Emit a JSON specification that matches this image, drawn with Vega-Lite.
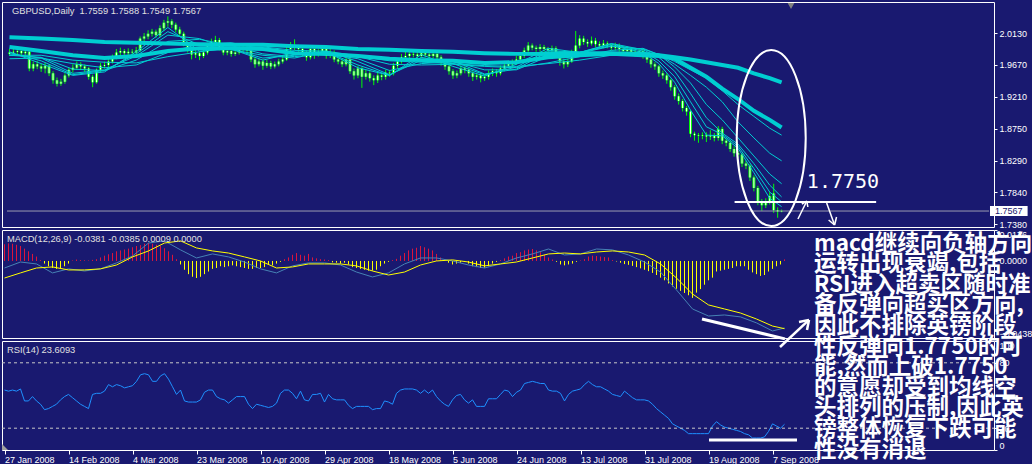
{
"$schema":"https://vega.github.io/schema/vega-lite/v6.json",
"background":"#191970",
"padding":{"left":0,"top":1,"right":0,"bottom":0},
"bounds":"flush",
"spacing":3,
"config":{"view":{"stroke":"#FFFFFF","strokeWidth":1},"axis":{"labelColor":"#FFFFFF","tickColor":"#FFFFFF","domain":false,"grid":false,"labelFont":"Liberation Sans","labelFontSize":9,"title":null,"labelOverlap":false}},
"resolve":{"scale":{"x":"independent","y":"independent"}},
"datasets":{
"bars":[
{"i":0,"o":1.983,"h":1.990,"l":1.980,"c":1.985,"m":0.0095,"r":55},
{"i":1,"o":1.985,"h":1.991,"l":1.981,"c":1.986,"m":0.0100,"r":54},
{"i":2,"o":1.986,"h":1.993,"l":1.982,"c":1.987,"m":0.0098,"r":55},
{"i":3,"o":1.987,"h":1.990,"l":1.980,"c":1.984,"m":0.0092,"r":54},
{"i":4,"o":1.984,"h":1.992,"l":1.981,"c":1.986,"m":0.0085,"r":56},
{"i":5,"o":1.986,"h":1.990,"l":1.958,"c":1.962,"m":0.0070,"r":45},
{"i":6,"o":1.962,"h":1.972,"l":1.958,"c":1.968,"m":0.0055,"r":45},
{"i":7,"o":1.968,"h":1.973,"l":1.961,"c":1.965,"m":0.0040,"r":49},
{"i":8,"o":1.965,"h":1.969,"l":1.957,"c":1.962,"m":0.0025,"r":45},
{"i":9,"o":1.962,"h":1.970,"l":1.955,"c":1.966,"m":0.0005,"r":42},
{"i":10,"o":1.966,"h":1.968,"l":1.951,"c":1.955,"m":-0.0015,"r":37},
{"i":11,"o":1.955,"h":1.958,"l":1.940,"c":1.945,"m":-0.0030,"r":38},
{"i":12,"o":1.945,"h":1.949,"l":1.936,"c":1.940,"m":-0.0040,"r":40},
{"i":13,"o":1.940,"h":1.947,"l":1.937,"c":1.943,"m":-0.0045,"r":42},
{"i":14,"o":1.943,"h":1.955,"l":1.940,"c":1.952,"m":-0.0040,"r":46},
{"i":15,"o":1.952,"h":1.963,"l":1.949,"c":1.960,"m":-0.0030,"r":49},
{"i":16,"o":1.960,"h":1.968,"l":1.956,"c":1.963,"m":-0.0015,"r":51},
{"i":17,"o":1.963,"h":1.972,"l":1.960,"c":1.968,"m":0.0003,"r":48},
{"i":18,"o":1.968,"h":1.971,"l":1.961,"c":1.965,"m":0.0008,"r":45},
{"i":19,"o":1.965,"h":1.968,"l":1.957,"c":1.962,"m":0.0005,"r":42},
{"i":20,"o":1.962,"h":1.964,"l":1.946,"c":1.950,"m":0.0004,"r":40},
{"i":21,"o":1.950,"h":1.953,"l":1.935,"c":1.942,"m":0.0003,"r":38},
{"i":22,"o":1.942,"h":1.962,"l":1.940,"c":1.960,"m":0.0006,"r":51},
{"i":23,"o":1.960,"h":1.970,"l":1.957,"c":1.966,"m":0.0010,"r":52},
{"i":24,"o":1.966,"h":1.972,"l":1.962,"c":1.967,"m":0.0020,"r":52},
{"i":25,"o":1.967,"h":1.976,"l":1.964,"c":1.972,"m":0.0030,"r":54},
{"i":26,"o":1.972,"h":1.982,"l":1.969,"c":1.978,"m":0.0038,"r":60},
{"i":27,"o":1.978,"h":1.990,"l":1.975,"c":1.985,"m":0.0045,"r":58},
{"i":28,"o":1.985,"h":1.992,"l":1.981,"c":1.987,"m":0.0055,"r":60},
{"i":29,"o":1.987,"h":1.990,"l":1.980,"c":1.984,"m":0.0060,"r":59},
{"i":30,"o":1.984,"h":1.991,"l":1.981,"c":1.986,"m":0.0065,"r":57},
{"i":31,"o":1.986,"h":1.990,"l":1.981,"c":1.985,"m":0.0070,"r":58},
{"i":32,"o":1.985,"h":1.993,"l":1.982,"c":1.988,"m":0.0078,"r":59},
{"i":33,"o":1.988,"h":2.008,"l":1.986,"c":2.005,"m":0.0085,"r":63},
{"i":34,"o":2.005,"h":2.013,"l":2.000,"c":2.008,"m":0.0090,"r":69},
{"i":35,"o":2.008,"h":2.017,"l":2.004,"c":2.012,"m":0.0098,"r":70},
{"i":36,"o":2.012,"h":2.019,"l":2.008,"c":2.015,"m":0.0102,"r":69},
{"i":37,"o":2.015,"h":2.018,"l":2.006,"c":2.010,"m":0.0098,"r":63},
{"i":38,"o":2.010,"h":2.024,"l":2.007,"c":2.020,"m":0.0092,"r":63},
{"i":39,"o":2.020,"h":2.032,"l":2.016,"c":2.028,"m":0.0085,"r":68},
{"i":40,"o":2.028,"h":2.037,"l":2.022,"c":2.030,"m":0.0072,"r":70},
{"i":41,"o":2.030,"h":2.033,"l":2.020,"c":2.025,"m":0.0055,"r":65},
{"i":42,"o":2.025,"h":2.028,"l":2.014,"c":2.018,"m":0.0035,"r":58},
{"i":43,"o":2.018,"h":2.022,"l":2.008,"c":2.012,"m":0.0010,"r":51},
{"i":44,"o":2.012,"h":2.015,"l":1.994,"c":1.998,"m":-0.0020,"r":55},
{"i":45,"o":1.998,"h":2.001,"l":1.985,"c":1.990,"m":-0.0050,"r":45},
{"i":46,"o":1.990,"h":1.993,"l":1.975,"c":1.982,"m":-0.0075,"r":44},
{"i":47,"o":1.982,"h":1.988,"l":1.977,"c":1.984,"m":-0.0090,"r":44},
{"i":48,"o":1.984,"h":1.987,"l":1.974,"c":1.980,"m":-0.0097,"r":44},
{"i":49,"o":1.980,"h":1.989,"l":1.977,"c":1.985,"m":-0.0090,"r":46},
{"i":50,"o":1.985,"h":1.999,"l":1.982,"c":1.995,"m":-0.0075,"r":53},
{"i":51,"o":1.995,"h":2.005,"l":1.991,"c":2.000,"m":-0.0060,"r":55},
{"i":52,"o":2.000,"h":2.009,"l":1.996,"c":2.003,"m":-0.0045,"r":55},
{"i":53,"o":2.003,"h":2.006,"l":1.988,"c":1.992,"m":-0.0040,"r":49},
{"i":54,"o":1.992,"h":1.995,"l":1.981,"c":1.985,"m":-0.0030,"r":47},
{"i":55,"o":1.985,"h":1.991,"l":1.981,"c":1.987,"m":-0.0035,"r":46},
{"i":56,"o":1.987,"h":1.990,"l":1.979,"c":1.983,"m":-0.0030,"r":43},
{"i":57,"o":1.983,"h":1.989,"l":1.980,"c":1.985,"m":-0.0025,"r":46},
{"i":58,"o":1.985,"h":1.995,"l":1.982,"c":1.990,"m":-0.0030,"r":49},
{"i":59,"o":1.990,"h":1.997,"l":1.986,"c":1.992,"m":-0.0035,"r":49},
{"i":60,"o":1.992,"h":1.995,"l":1.984,"c":1.988,"m":-0.0040,"r":49},
{"i":61,"o":1.988,"h":1.990,"l":1.971,"c":1.975,"m":-0.0045,"r":42},
{"i":62,"o":1.975,"h":1.978,"l":1.963,"c":1.968,"m":-0.0045,"r":38},
{"i":63,"o":1.968,"h":1.976,"l":1.965,"c":1.972,"m":-0.0040,"r":42},
{"i":64,"o":1.972,"h":1.975,"l":1.960,"c":1.966,"m":-0.0040,"r":41},
{"i":65,"o":1.966,"h":1.974,"l":1.963,"c":1.970,"m":-0.0035,"r":40},
{"i":66,"o":1.970,"h":1.973,"l":1.961,"c":1.965,"m":-0.0020,"r":39},
{"i":67,"o":1.965,"h":1.972,"l":1.962,"c":1.968,"m":-0.0025,"r":40},
{"i":68,"o":1.968,"h":1.976,"l":1.965,"c":1.972,"m":-0.0015,"r":43},
{"i":69,"o":1.972,"h":1.980,"l":1.969,"c":1.975,"m":-0.0005,"r":52},
{"i":70,"o":1.975,"h":1.994,"l":1.973,"c":1.990,"m":0.0010,"r":55},
{"i":71,"o":1.990,"h":2.000,"l":1.986,"c":1.995,"m":0.0020,"r":55},
{"i":72,"o":1.995,"h":2.004,"l":1.988,"c":1.992,"m":0.0035,"r":52},
{"i":73,"o":1.992,"h":1.996,"l":1.986,"c":1.990,"m":0.0045,"r":47},
{"i":74,"o":1.990,"h":1.994,"l":1.980,"c":1.985,"m":0.0035,"r":54},
{"i":75,"o":1.985,"h":1.988,"l":1.973,"c":1.978,"m":0.0030,"r":46},
{"i":76,"o":1.978,"h":1.994,"l":1.975,"c":1.990,"m":0.0040,"r":45},
{"i":77,"o":1.990,"h":1.993,"l":1.976,"c":1.982,"m":0.0020,"r":51},
{"i":78,"o":1.982,"h":1.990,"l":1.979,"c":1.986,"m":0.0015,"r":51},
{"i":79,"o":1.986,"h":1.995,"l":1.983,"c":1.990,"m":0.0010,"r":52},
{"i":80,"o":1.990,"h":1.993,"l":1.976,"c":1.980,"m":0.0008,"r":44},
{"i":81,"o":1.980,"h":1.990,"l":1.977,"c":1.985,"m":0.0005,"r":51},
{"i":82,"o":1.985,"h":1.988,"l":1.971,"c":1.975,"m":-0.0008,"r":47},
{"i":83,"o":1.975,"h":1.979,"l":1.968,"c":1.972,"m":-0.0010,"r":46},
{"i":84,"o":1.972,"h":1.976,"l":1.964,"c":1.968,"m":-0.0015,"r":46},
{"i":85,"o":1.968,"h":1.979,"l":1.965,"c":1.975,"m":-0.0010,"r":46},
{"i":86,"o":1.975,"h":1.978,"l":1.954,"c":1.958,"m":-0.0020,"r":41},
{"i":87,"o":1.958,"h":1.962,"l":1.946,"c":1.952,"m":-0.0035,"r":38},
{"i":88,"o":1.952,"h":1.966,"l":1.948,"c":1.962,"m":-0.0040,"r":40},
{"i":89,"o":1.962,"h":1.964,"l":1.934,"c":1.950,"m":-0.0045,"r":40},
{"i":90,"o":1.950,"h":1.960,"l":1.946,"c":1.955,"m":-0.0050,"r":40},
{"i":91,"o":1.955,"h":1.958,"l":1.943,"c":1.948,"m":-0.0055,"r":40},
{"i":92,"o":1.948,"h":1.952,"l":1.938,"c":1.945,"m":-0.0055,"r":37},
{"i":93,"o":1.945,"h":1.956,"l":1.941,"c":1.952,"m":-0.0050,"r":38},
{"i":94,"o":1.952,"h":1.955,"l":1.945,"c":1.950,"m":-0.0030,"r":38},
{"i":95,"o":1.950,"h":1.960,"l":1.946,"c":1.956,"m":-0.0015,"r":45},
{"i":96,"o":1.956,"h":1.960,"l":1.950,"c":1.955,"m":-0.0005,"r":44},
{"i":97,"o":1.955,"h":1.970,"l":1.952,"c":1.966,"m":0.0005,"r":42},
{"i":98,"o":1.966,"h":1.977,"l":1.962,"c":1.972,"m":0.0012,"r":52},
{"i":99,"o":1.972,"h":1.983,"l":1.969,"c":1.978,"m":0.0030,"r":55},
{"i":100,"o":1.978,"h":1.986,"l":1.975,"c":1.980,"m":0.0045,"r":56},
{"i":101,"o":1.980,"h":1.988,"l":1.977,"c":1.983,"m":0.0060,"r":56},
{"i":102,"o":1.983,"h":1.987,"l":1.978,"c":1.982,"m":0.0070,"r":56},
{"i":103,"o":1.982,"h":1.985,"l":1.976,"c":1.980,"m":0.0075,"r":55},
{"i":104,"o":1.980,"h":1.989,"l":1.977,"c":1.984,"m":0.0085,"r":52},
{"i":105,"o":1.984,"h":1.988,"l":1.978,"c":1.982,"m":0.0078,"r":55},
{"i":106,"o":1.982,"h":1.986,"l":1.976,"c":1.980,"m":0.0070,"r":52},
{"i":107,"o":1.980,"h":1.988,"l":1.977,"c":1.983,"m":0.0060,"r":55},
{"i":108,"o":1.983,"h":1.986,"l":1.974,"c":1.978,"m":0.0040,"r":49},
{"i":109,"o":1.978,"h":1.981,"l":1.966,"c":1.970,"m":0.0020,"r":45},
{"i":110,"o":1.970,"h":1.974,"l":1.960,"c":1.965,"m":0.0005,"r":42},
{"i":111,"o":1.965,"h":1.968,"l":1.953,"c":1.958,"m":-0.0010,"r":40},
{"i":112,"o":1.958,"h":1.961,"l":1.947,"c":1.952,"m":-0.0020,"r":46},
{"i":113,"o":1.952,"h":1.959,"l":1.948,"c":1.955,"m":-0.0015,"r":50},
{"i":114,"o":1.955,"h":1.966,"l":1.952,"c":1.962,"m":-0.0010,"r":51},
{"i":115,"o":1.962,"h":1.965,"l":1.955,"c":1.960,"m":-0.0005,"r":46},
{"i":116,"o":1.960,"h":1.963,"l":1.950,"c":1.955,"m":-0.0015,"r":43},
{"i":117,"o":1.955,"h":1.958,"l":1.944,"c":1.950,"m":-0.0030,"r":46},
{"i":118,"o":1.950,"h":1.956,"l":1.946,"c":1.952,"m":-0.0035,"r":40},
{"i":119,"o":1.952,"h":1.955,"l":1.942,"c":1.948,"m":-0.0040,"r":40},
{"i":120,"o":1.948,"h":1.954,"l":1.944,"c":1.950,"m":-0.0038,"r":40},
{"i":121,"o":1.950,"h":1.959,"l":1.946,"c":1.955,"m":-0.0030,"r":47},
{"i":122,"o":1.955,"h":1.962,"l":1.951,"c":1.958,"m":-0.0015,"r":47},
{"i":123,"o":1.958,"h":1.961,"l":1.950,"c":1.955,"m":-0.0005,"r":47},
{"i":124,"o":1.955,"h":1.966,"l":1.952,"c":1.962,"m":0.0005,"r":51},
{"i":125,"o":1.962,"h":1.970,"l":1.958,"c":1.966,"m":0.0015,"r":55},
{"i":126,"o":1.966,"h":1.973,"l":1.963,"c":1.968,"m":0.0025,"r":54},
{"i":127,"o":1.968,"h":1.975,"l":1.964,"c":1.970,"m":0.0030,"r":49},
{"i":128,"o":1.970,"h":1.980,"l":1.967,"c":1.975,"m":0.0045,"r":53},
{"i":129,"o":1.975,"h":1.985,"l":1.972,"c":1.980,"m":0.0050,"r":55},
{"i":130,"o":1.980,"h":1.992,"l":1.977,"c":1.988,"m":0.0060,"r":61},
{"i":131,"o":1.988,"h":2.000,"l":1.985,"c":1.995,"m":0.0065,"r":62},
{"i":132,"o":1.995,"h":1.998,"l":1.988,"c":1.992,"m":0.0068,"r":63},
{"i":133,"o":1.992,"h":1.995,"l":1.986,"c":1.990,"m":0.0060,"r":62},
{"i":134,"o":1.990,"h":1.997,"l":1.986,"c":1.993,"m":0.0050,"r":61},
{"i":135,"o":1.993,"h":1.996,"l":1.986,"c":1.990,"m":0.0035,"r":61},
{"i":136,"o":1.990,"h":1.993,"l":1.984,"c":1.988,"m":0.0020,"r":55},
{"i":137,"o":1.988,"h":1.995,"l":1.985,"c":1.991,"m":0.0008,"r":54},
{"i":138,"o":1.991,"h":1.994,"l":1.980,"c":1.985,"m":-0.0005,"r":54},
{"i":139,"o":1.985,"h":1.987,"l":1.966,"c":1.972,"m":-0.0020,"r":52},
{"i":140,"o":1.972,"h":1.976,"l":1.962,"c":1.968,"m":-0.0025,"r":45},
{"i":141,"o":1.968,"h":1.976,"l":1.964,"c":1.972,"m":-0.0020,"r":51},
{"i":142,"o":1.972,"h":1.989,"l":1.970,"c":1.985,"m":-0.0015,"r":54},
{"i":143,"o":1.985,"h":2.016,"l":1.982,"c":1.995,"m":-0.0005,"r":55},
{"i":144,"o":1.995,"h":2.010,"l":1.991,"c":2.005,"m":0.0003,"r":56},
{"i":145,"o":2.005,"h":2.009,"l":1.996,"c":2.000,"m":0.0010,"r":60},
{"i":146,"o":2.000,"h":2.004,"l":1.993,"c":1.998,"m":0.0025,"r":63},
{"i":147,"o":1.998,"h":2.008,"l":1.995,"c":2.002,"m":0.0030,"r":60},
{"i":148,"o":2.002,"h":2.006,"l":1.993,"c":1.997,"m":0.0028,"r":58},
{"i":149,"o":1.997,"h":2.001,"l":1.991,"c":1.995,"m":0.0025,"r":58},
{"i":150,"o":1.995,"h":2.003,"l":1.991,"c":1.998,"m":0.0022,"r":56},
{"i":151,"o":1.998,"h":2.001,"l":1.991,"c":1.995,"m":0.0020,"r":54},
{"i":152,"o":1.995,"h":1.998,"l":1.988,"c":1.992,"m":0.0005,"r":51},
{"i":153,"o":1.992,"h":1.999,"l":1.988,"c":1.995,"m":-0.0003,"r":50},
{"i":154,"o":1.995,"h":1.998,"l":1.986,"c":1.990,"m":-0.0010,"r":49},
{"i":155,"o":1.990,"h":1.994,"l":1.983,"c":1.987,"m":-0.0018,"r":54},
{"i":156,"o":1.987,"h":1.994,"l":1.983,"c":1.990,"m":-0.0022,"r":51},
{"i":157,"o":1.990,"h":1.993,"l":1.982,"c":1.986,"m":-0.0028,"r":48},
{"i":158,"o":1.986,"h":1.989,"l":1.979,"c":1.983,"m":-0.0035,"r":46},
{"i":159,"o":1.983,"h":1.991,"l":1.979,"c":1.987,"m":-0.0042,"r":46},
{"i":160,"o":1.987,"h":1.990,"l":1.976,"c":1.980,"m":-0.0050,"r":46},
{"i":161,"o":1.980,"h":1.983,"l":1.970,"c":1.975,"m":-0.0058,"r":45},
{"i":162,"o":1.975,"h":1.978,"l":1.963,"c":1.968,"m":-0.0068,"r":42},
{"i":163,"o":1.968,"h":1.971,"l":1.960,"c":1.965,"m":-0.0080,"r":38},
{"i":164,"o":1.965,"h":1.967,"l":1.950,"c":1.955,"m":-0.0095,"r":35},
{"i":165,"o":1.955,"h":1.959,"l":1.947,"c":1.952,"m":-0.0110,"r":32},
{"i":166,"o":1.952,"h":1.955,"l":1.940,"c":1.945,"m":-0.0128,"r":29},
{"i":167,"o":1.945,"h":1.947,"l":1.930,"c":1.935,"m":-0.0145,"r":24},
{"i":168,"o":1.935,"h":1.938,"l":1.917,"c":1.922,"m":-0.0158,"r":22},
{"i":169,"o":1.922,"h":1.926,"l":1.910,"c":1.915,"m":-0.0170,"r":20},
{"i":170,"o":1.915,"h":1.918,"l":1.900,"c":1.905,"m":-0.0182,"r":18},
{"i":171,"o":1.905,"h":1.908,"l":1.894,"c":1.900,"m":-0.0195,"r":15},
{"i":172,"o":1.900,"h":1.902,"l":1.863,"c":1.868,"m":-0.0210,"r":15},
{"i":173,"o":1.868,"h":1.871,"l":1.858,"c":1.866,"m":-0.0180,"r":15},
{"i":174,"o":1.866,"h":1.869,"l":1.855,"c":1.865,"m":-0.0160,"r":15},
{"i":175,"o":1.865,"h":1.870,"l":1.860,"c":1.866,"m":-0.0135,"r":15},
{"i":176,"o":1.866,"h":1.870,"l":1.856,"c":1.864,"m":-0.0110,"r":15},
{"i":177,"o":1.864,"h":1.873,"l":1.859,"c":1.866,"m":-0.0095,"r":22},
{"i":178,"o":1.866,"h":1.869,"l":1.857,"c":1.862,"m":-0.0060,"r":26},
{"i":179,"o":1.862,"h":1.879,"l":1.858,"c":1.875,"m":-0.0055,"r":23},
{"i":180,"o":1.875,"h":1.878,"l":1.853,"c":1.858,"m":-0.0050,"r":21},
{"i":181,"o":1.858,"h":1.861,"l":1.850,"c":1.855,"m":-0.0045,"r":20},
{"i":182,"o":1.855,"h":1.858,"l":1.842,"c":1.846,"m":-0.0040,"r":19},
{"i":183,"o":1.846,"h":1.850,"l":1.835,"c":1.840,"m":-0.0030,"r":18},
{"i":184,"o":1.840,"h":1.843,"l":1.833,"c":1.838,"m":-0.0030,"r":17},
{"i":185,"o":1.838,"h":1.840,"l":1.820,"c":1.825,"m":-0.0030,"r":15},
{"i":186,"o":1.825,"h":1.829,"l":1.817,"c":1.822,"m":-0.0050,"r":14},
{"i":187,"o":1.822,"h":1.824,"l":1.800,"c":1.805,"m":-0.0065,"r":11},
{"i":188,"o":1.805,"h":1.808,"l":1.785,"c":1.790,"m":-0.0075,"r":11},
{"i":189,"o":1.790,"h":1.793,"l":1.765,"c":1.770,"m":-0.0085,"r":11},
{"i":190,"o":1.770,"h":1.774,"l":1.757,"c":1.765,"m":-0.0080,"r":12},
{"i":191,"o":1.765,"h":1.775,"l":1.761,"c":1.770,"m":-0.0060,"r":17},
{"i":192,"o":1.770,"h":1.784,"l":1.766,"c":1.778,"m":-0.0045,"r":24},
{"i":193,"o":1.782,"h":1.796,"l":1.754,"c":1.758,"m":-0.0030,"r":22},
{"i":194,"o":1.758,"h":1.762,"l":1.747,"c":1.756,"m":-0.0020,"r":20},
{"i":195,"o":1.7559,"h":1.7588,"l":1.7549,"c":1.7567,"m":0.0009,"r":23.6}
],
"ma":[
{"i":0,"t1":1.986,"t2":1.985,"t3":1.983,"t4":1.981,"t5":1.976,"t6":1.981,"a":2.007,"b":1.993},
{"i":8,"t1":1.969,"t2":1.973,"t3":1.977,"t4":1.978,"t5":1.977,"t6":1.981,"a":2.005,"b":1.987},
{"i":16,"t1":1.952,"t2":1.953,"t3":1.955,"t4":1.961,"t5":1.969,"t6":1.974,"a":2.003,"b":1.981},
{"i":24,"t1":1.957,"t2":1.959,"t3":1.960,"t4":1.959,"t5":1.963,"t6":1.971,"a":2.000,"b":1.977},
{"i":32,"t1":1.986,"t2":1.983,"t3":1.980,"t4":1.974,"t5":1.967,"t6":1.970,"a":1.999,"b":1.980},
{"i":40,"t1":2.021,"t2":2.015,"t3":2.010,"t4":2.001,"t5":1.985,"t6":1.979,"a":1.998,"b":1.987},
{"i":48,"t1":1.987,"t2":1.996,"t3":2.005,"t4":2.004,"t5":1.997,"t6":1.986,"a":1.997,"b":1.991},
{"i":56,"t1":1.990,"t2":1.990,"t3":1.989,"t4":1.995,"t5":1.999,"t6":1.992,"a":1.996,"b":1.991},
{"i":64,"t1":1.974,"t2":1.977,"t3":1.981,"t4":1.983,"t5":1.990,"t6":1.993,"a":1.996,"b":1.990},
{"i":72,"t1":1.985,"t2":1.981,"t3":1.977,"t4":1.979,"t5":1.983,"t6":1.988,"a":1.994,"b":1.984},
{"i":80,"t1":1.986,"t2":1.986,"t3":1.987,"t4":1.983,"t5":1.981,"t6":1.987,"a":1.993,"b":1.983},
{"i":88,"t1":1.963,"t2":1.967,"t3":1.972,"t4":1.976,"t5":1.979,"t6":1.980,"a":1.990,"b":1.980},
{"i":96,"t1":1.952,"t2":1.952,"t3":1.953,"t4":1.959,"t5":1.968,"t6":1.973,"a":1.989,"b":1.976},
{"i":104,"t1":1.982,"t2":1.978,"t3":1.974,"t4":1.969,"t5":1.967,"t6":1.971,"a":1.987,"b":1.974},
{"i":112,"t1":1.965,"t2":1.969,"t3":1.973,"t4":1.972,"t5":1.968,"t6":1.969,"a":1.986,"b":1.973},
{"i":120,"t1":1.951,"t2":1.953,"t3":1.954,"t4":1.960,"t5":1.965,"t6":1.966,"a":1.984,"b":1.970},
{"i":128,"t1":1.968,"t2":1.964,"t3":1.961,"t4":1.960,"t5":1.963,"t6":1.965,"a":1.983,"b":1.971},
{"i":136,"t1":1.991,"t2":1.988,"t3":1.986,"t4":1.979,"t5":1.970,"t6":1.969,"a":1.983,"b":1.978},
{"i":144,"t1":1.985,"t2":1.985,"t3":1.985,"t4":1.984,"t5":1.979,"t6":1.974,"a":1.984,"b":1.981},
{"i":152,"t1":1.995,"t2":1.997,"t3":1.998,"t4":1.994,"t5":1.988,"t6":1.981,"a":1.984,"b":1.983},
{"i":160,"t1":1.985,"t2":1.987,"t3":1.989,"t4":1.990,"t5":1.991,"t6":1.985,"a":1.983,"b":1.981},
{"i":164,"t1":1.969,"t2":1.973,"t3":1.978,"t4":1.982,"t5":1.982,"t6":1.983,"a":1.981,"b":1.980},
{"i":168,"t1":1.942,"t2":1.950,"t3":1.958,"t4":1.964,"t5":1.968,"t6":1.972,"a":1.978,"b":1.976},
{"i":172,"t1":1.902,"t2":1.914,"t3":1.926,"t4":1.941,"t5":1.952,"t6":1.960,"a":1.975,"b":1.963},
{"i":176,"t1":1.866,"t2":1.878,"t3":1.891,"t4":1.910,"t5":1.935,"t6":1.948,"a":1.971,"b":1.950},
{"i":180,"t1":1.865,"t2":1.867,"t3":1.869,"t4":1.888,"t5":1.914,"t6":1.930,"a":1.967,"b":1.933},
{"i":184,"t1":1.847,"t2":1.850,"t3":1.853,"t4":1.862,"t5":1.885,"t6":1.910,"a":1.963,"b":1.918},
{"i":188,"t1":1.812,"t2":1.818,"t3":1.825,"t4":1.836,"t5":1.862,"t6":1.893,"a":1.955,"b":1.901},
{"i":192,"t1":1.775,"t2":1.784,"t3":1.794,"t4":1.810,"t5":1.840,"t6":1.876,"a":1.948,"b":1.888},
{"i":195,"t1":1.763,"t2":1.770,"t3":1.777,"t4":1.796,"t5":1.829,"t6":1.866,"a":1.942,"b":1.877}
],
"ml":[
{"i":0,"u":-0.0040,"s":-0.0097},{"i":4,"u":-0.0006,"s":-0.0068},{"i":8,"u":-0.0017,"s":-0.0040},{"i":12,"u":-0.0068,"s":-0.0034},
{"i":16,"u":-0.0045,"s":-0.0051},{"i":20,"u":-0.0057,"s":-0.0051},{"i":24,"u":-0.0045,"s":-0.0045},{"i":28,"u":-0.0011,"s":-0.0023},
{"i":32,"u":0.0028,"s":0.0023},{"i":36,"u":0.0102,"s":0.0057},{"i":40,"u":0.0114,"s":0.0102},{"i":44,"u":0.0063,"s":0.0114},
{"i":48,"u":0.0017,"s":0.0074},{"i":52,"u":0.0040,"s":0.0057},{"i":56,"u":0.0023,"s":0.0045},{"i":60,"u":-0.0006,"s":0.0023},
{"i":64,"u":-0.0045,"s":0.0000},{"i":68,"u":-0.0068,"s":-0.0040},{"i":72,"u":-0.0028,"s":-0.0034},{"i":76,"u":-0.0011,"s":-0.0017},
{"i":80,"u":-0.0011,"s":-0.0017},{"i":84,"u":-0.0023,"s":-0.0017},{"i":88,"u":-0.0063,"s":-0.0028},{"i":92,"u":-0.0091,"s":-0.0057},
{"i":96,"u":-0.0068,"s":-0.0080},{"i":100,"u":-0.0017,"s":-0.0063},{"i":104,"u":0.0017,"s":-0.0023},{"i":108,"u":0.0017,"s":0.0000},
{"i":112,"u":0.0000,"s":0.0006},{"i":116,"u":-0.0023,"s":-0.0006},{"i":120,"u":-0.0040,"s":-0.0028},{"i":124,"u":-0.0017,"s":-0.0017},
{"i":128,"u":0.0017,"s":-0.0006},{"i":132,"u":0.0040,"s":0.0017},{"i":136,"u":0.0068,"s":0.0040},{"i":140,"u":0.0034,"s":0.0045},
{"i":144,"u":0.0040,"s":0.0040},{"i":148,"u":0.0068,"s":0.0051},{"i":152,"u":0.0063,"s":0.0057},{"i":156,"u":0.0034,"s":0.0051},
{"i":160,"u":-0.0006,"s":0.0034},{"i":164,"u":-0.0063,"s":-0.0017},{"i":168,"u":-0.0165,"s":-0.0097},{"i":172,"u":-0.0273,"s":-0.0188},
{"i":176,"u":-0.0313,"s":-0.0250},{"i":180,"u":-0.0307,"s":-0.0273},{"i":184,"u":-0.0318,"s":-0.0296},{"i":188,"u":-0.0352,"s":-0.0330},
{"i":192,"u":-0.0398,"s":-0.0370},{"i":195,"u":-0.0381,"s":-0.0385}
]
},
"vconcat":[
{
"width":992,"height":225,
"layer":[
{"data":{"name":"bars"},"mark":{"type":"rule","color":"#00FF00","strokeWidth":1},
 "encoding":{"x":{"field":"i","type":"quantitative","scale":{"domain":[-0.625,247.375],"nice":false,"zero":false},"axis":null},
  "y":{"field":"l","type":"quantitative","scale":{"domain":[1.7337,2.0577],"nice":false,"zero":false},"axis":{"orient":"right","values":[1.738,1.784,1.829,1.875,1.921,1.967,2.013],"tickCount":50,"format":".4f","tickSize":3,"labelPadding":2,"labelOverlap":false}},"y2":{"field":"h"}}},
{"data":{"name":"bars"},"mark":{"type":"bar","color":"#00FF00","size":3,"orient":"vertical"},
 "encoding":{"x":{"field":"i","type":"quantitative"},"y":{"field":"o","type":"quantitative"},"y2":{"field":"c"}}},
{"data":{"name":"bars"},"mark":{"type":"bar","color":"#FFFFFF","size":1,"orient":"vertical"},
 "encoding":{"x":{"field":"i","type":"quantitative"},"y":{"field":"o","type":"quantitative"},"y2":{"field":"c"}}},
{"data":{"name":"ma"},"transform":[{"fold":["t1","t2","t3","t4","t5","t6"],"as":["k","v"]}],
 "mark":{"type":"line","color":"#00CED1","strokeWidth":1},
 "encoding":{"x":{"field":"i","type":"quantitative"},"y":{"field":"v","type":"quantitative"},"detail":{"field":"k","type":"nominal"}}},
{"data":{"name":"ma"},"transform":[{"fold":["a","b"],"as":["k","v"]}],
 "mark":{"type":"line","color":"#00CED1","strokeWidth":4},
 "encoding":{"x":{"field":"i","type":"quantitative"},"y":{"field":"v","type":"quantitative"},"detail":{"field":"k","type":"nominal"}}},
{"data":{"values":[{"xa":-0.625,"xb":247.375,"ya":1.7567,"yb":1.7567}]},"mark":{"type":"rule","color":"#9A9AB0","strokeWidth":1},
 "encoding":{"x":{"field":"xa","type":"quantitative"},"x2":{"field":"xb"},"y":{"field":"ya","type":"quantitative"},"y2":{"field":"yb"}}},
{"data":{"values":[{"xa":247.625,"xb":257.125,"ya":1.7495,"yb":1.7639}]},"mark":{"type":"rect","color":"#FFFFFF"},
 "encoding":{"x":{"field":"xa","type":"quantitative"},"x2":{"field":"xb"},"y":{"field":"ya","type":"quantitative"},"y2":{"field":"yb"}}},
{"data":{"values":[{"xa":252.375,"ya":1.7567,"t":"1.7567"}]},"mark":{"type":"text","color":"#191970","font":"Liberation Sans","fontSize":9,"align":"center","baseline":"middle"},
 "encoding":{"x":{"field":"xa","type":"quantitative"},"y":{"field":"ya","type":"quantitative"},"text":{"field":"t","type":"nominal"}}},
{"data":{"values":[{"xa":0.625,"ya":2.0404,"t":"GBPUSD,Daily\u00a0\u00a01.7559 1.7588 1.7549 1.7567"}]},"mark":{"type":"text","color":"#E0E0E0","font":"Liberation Sans","fontSize":9.3,"align":"left","baseline":"alphabetic"},
 "encoding":{"x":{"field":"xa","type":"quantitative"},"y":{"field":"ya","type":"quantitative"},"text":{"field":"t","type":"nominal"}}},
{"data":{"values":[{"xa":197.375,"ya":2.0519}]},"mark":{"type":"point","shape":"triangle-down","size":45,"filled":true,"color":"#808080","opacity":1},
 "encoding":{"x":{"field":"xa","type":"quantitative"},"y":{"field":"ya","type":"quantitative"}}},
{"data":{"values":[{"xa":192.375,"ya":1.8618}]},"mark":{"type":"point","shape":"M0,-1C0.2165,-1,0.392,-0.5523,0.392,0C0.392,0.5523,0.2165,1,0,1C-0.2165,1,-0.392,0.5523,-0.392,0C-0.392,-0.5523,-0.2165,-1,0,-1Z","size":30976,"filled":false,"stroke":"#FFFFFF","strokeWidth":2,"opacity":1},
 "encoding":{"x":{"field":"xa","type":"quantitative"},"y":{"field":"ya","type":"quantitative"}}},
{"data":{"values":[{"xa":183.125,"ya":1.7697,"xb":218.875,"yb":1.7697}]},"mark":{"type":"rule","color":"#FFFFFF","strokeWidth":2},
 "encoding":{"x":{"field":"xa","type":"quantitative"},"y":{"field":"ya","type":"quantitative"},"x2":{"field":"xb"},"y2":{"field":"yb"}}},
{"data":{"values":[
 {"xa":199.125,"ya":1.7452,"xb":201.375,"yb":1.7711},
 {"xa":201.375,"ya":1.7711,"xb":200.125,"yb":1.7668},
 {"xa":201.375,"ya":1.7711,"xb":201.625,"yb":1.7625},
 {"xa":206.375,"ya":1.7682,"xb":208.375,"yb":1.7366},
 {"xa":208.375,"ya":1.7366,"xb":206.875,"yb":1.7438},
 {"xa":208.375,"ya":1.7366,"xb":208.875,"yb":1.7481}]},
 "mark":{"type":"rule","color":"#FFFFFF","strokeWidth":1.5},
 "encoding":{"x":{"field":"xa","type":"quantitative"},"y":{"field":"ya","type":"quantitative"},"x2":{"field":"xb"},"y2":{"field":"yb"}}},
{"data":{"values":[{"xa":201.375,"ya":1.7898,"t":"1.7750"}]},"mark":{"type":"text","color":"#FFFFFF","font":"DejaVu Sans Mono","fontSize":20,"align":"left","baseline":"alphabetic"},
 "encoding":{"x":{"field":"xa","type":"quantitative"},"y":{"field":"ya","type":"quantitative"},"text":{"field":"t","type":"nominal"}}}
]
},
{
"width":992,"height":108,
"layer":[
{"data":{"name":"bars"},"mark":{"type":"rule","strokeWidth":1},
 "encoding":{"x":{"field":"i","type":"quantitative","scale":{"domain":[-0.625,247.375],"nice":false,"zero":false},"axis":null},
  "y":{"field":"m","type":"quantitative","scale":{"domain":[-0.0438,0.0176],"nice":false,"zero":false},"axis":{"orient":"right","values":[-0.0438,0,0.0176],"tickCount":50,"format":".4f","tickSize":3,"labelPadding":2,"labelFlush":true,"labelOverlap":false}},"y2":{"datum":0},
  "color":{"condition":{"test":"datum.m > 0","value":"#DC143C"},"value":"#FFFF00"}}},
{"data":{"name":"ml"},"mark":{"type":"line","color":"#4682B4","strokeWidth":1},
 "encoding":{"x":{"field":"i","type":"quantitative"},"y":{"field":"u","type":"quantitative"}}},
{"data":{"name":"ml"},"mark":{"type":"line","color":"#FFFF00","strokeWidth":1},
 "encoding":{"x":{"field":"i","type":"quantitative"},"y":{"field":"s","type":"quantitative"}}},
{"data":{"values":[{"xa":0.625,"ya":0.0108,"t":"MACD(12,26,9) -0.0381 -0.0385 0.0009 0.0000"}]},"mark":{"type":"text","color":"#E0E0E0","font":"Liberation Sans","fontSize":9.3,"align":"left","baseline":"alphabetic"},
 "encoding":{"x":{"field":"xa","type":"quantitative"},"y":{"field":"ya","type":"quantitative"},"text":{"field":"t","type":"nominal"}}},
{"data":{"values":[{"xa":174.375,"ya":-0.0330,"xb":195.125,"yb":-0.0443}]},"mark":{"type":"rule","color":"#FFFFFF","strokeWidth":3},
 "encoding":{"x":{"field":"xa","type":"quantitative"},"y":{"field":"ya","type":"quantitative"},"x2":{"field":"xb"},"y2":{"field":"yb"}}},
{"data":{"values":[
 {"xa":193.875,"ya":-0.0489,"xb":201.125,"yb":-0.0335},
 {"xa":201.125,"ya":-0.0335,"xb":198.625,"yb":-0.0347},
 {"xa":201.125,"ya":-0.0335,"xb":200.625,"yb":-0.0392}]},
 "mark":{"type":"rule","color":"#FFFFFF","strokeWidth":2.5},
 "encoding":{"x":{"field":"xa","type":"quantitative"},"y":{"field":"ya","type":"quantitative"},"x2":{"field":"xb"},"y2":{"field":"yb"}}}
]
},
{
"width":992,"height":109,
"layer":[
{"data":{"name":"bars"},"mark":{"type":"line","color":"#1E90FF","strokeWidth":1},
 "encoding":{"x":{"field":"i","type":"quantitative","scale":{"domain":[-0.625,247.375],"nice":false,"zero":false},
  "axis":{"values":[0,16,32,48,64,80,96,112,128,144,160,176,192],"tickCount":50,"labelExpr":"['27 Jan 2008','14 Feb 2008','4 Mar 2008','23 Mar 2008','10 Apr 2008','29 Apr 2008','18 May 2008','5 Jun 2008','24 Jun 2008','13 Jul 2008','31 Jul 2008','19 Aug 2008','7 Sep 2008'][round(datum.value/16)]","labelAlign":"left","labelBaseline":"top","labelPadding":1,"tickSize":4,"labelFlush":false,"labelOverlap":false}},
  "y":{"field":"r","type":"quantitative","scale":{"domain":[0,100],"nice":false,"zero":false},"axis":{"orient":"right","values":[0,20,80,100],"tickCount":50,"tickSize":3,"labelPadding":2,"labelFlush":true,"labelOverlap":false}}}},
{"data":{"values":[{"xa":-0.625,"xb":247.375,"ya":80,"yb":80},{"xa":-0.625,"xb":247.375,"ya":20,"yb":20}]},"mark":{"type":"rule","color":"#C8C8C8","strokeWidth":1,"strokeDash":[3,3]},
 "encoding":{"x":{"field":"xa","type":"quantitative"},"x2":{"field":"xb"},"y":{"field":"ya","type":"quantitative"},"y2":{"field":"yb"}}},
{"data":{"values":[{"xa":0.125,"ya":2.75}]},"mark":{"type":"point","shape":"M-1,-1L1,1L-1,1Z","size":36,"filled":true,"color":"#A0A0A0","opacity":1},
 "encoding":{"x":{"field":"xa","type":"quantitative"},"y":{"field":"ya","type":"quantitative"}}},
{"data":{"values":[{"xa":0.625,"ya":89,"t":"RSI(14) 23.6093"}]},"mark":{"type":"text","color":"#E0E0E0","font":"Liberation Sans","fontSize":9.3,"align":"left","baseline":"alphabetic"},
 "encoding":{"x":{"field":"xa","type":"quantitative"},"y":{"field":"ya","type":"quantitative"},"text":{"field":"t","type":"nominal"}}},
{"data":{"values":[{"xa":176.125,"ya":9.2,"xb":198.125,"yb":9.2}]},"mark":{"type":"rule","color":"#FFFFFF","strokeWidth":3},
 "encoding":{"x":{"field":"xa","type":"quantitative"},"y":{"field":"ya","type":"quantitative"},"x2":{"field":"xb"},"y2":{"field":"yb"}}},
{"data":{"values":[{"xa":202.375,"ya":199.5,"note":"macd继续向负轴方向\n运转出现衰竭,包括\nRSI进入超卖区随时准\n备反弹向超买区方向,\n因此不排除英镑阶段\n性反弹向1.7750的可\n能,然而上破1.7750\n的意愿却受到均线空\n头排列的压制,因此英\n镑整体恢复下跌可能\n性没有消退"}]},
 "mark":{"type":"text","color":"#FFFFFF","font":"Noto Sans CJK SC","fontWeight":"bold","fontSize":22.5,"lineHeight":20.6,"lineBreak":"\n","align":"left","baseline":"top"},
 "encoding":{"x":{"field":"xa","type":"quantitative"},"y":{"field":"ya","type":"quantitative"},"text":{"field":"note","type":"nominal"}}}
]
}
]
}
